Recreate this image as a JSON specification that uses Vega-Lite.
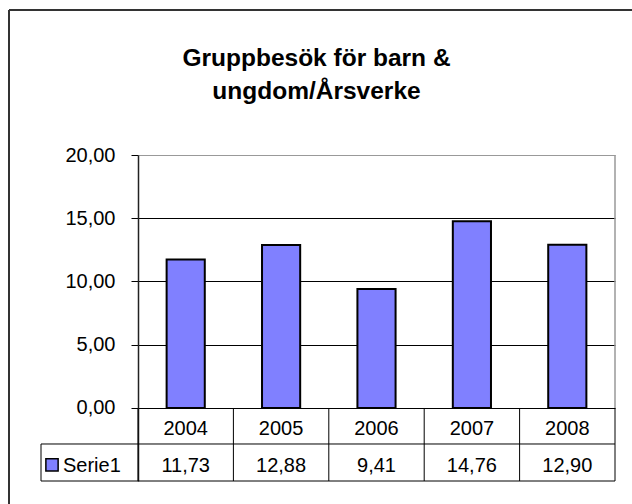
{
  "$schema": "https://vega.github.io/schema/vega-lite/v6.json",
  "width": 623,
  "height": 494,
  "autosize": {"type": "none"},
  "padding": {"left": 9, "top": 10, "right": 0, "bottom": 0},
  "background": "white",
  "config": {
    "view": {"stroke": null},
    "locale": {"number": {"decimal": ",", "thousands": " ", "grouping": [3], "currency": ["", " kr"]}},
    "font": "Liberation Sans"
  },
  "title": {
    "text": ["Gruppbesök för barn &", "ungdom/Årsverke"],
    "fontSize": 24.5,
    "fontWeight": "bold",
    "font": "Liberation Sans",
    "color": "black",
    "lineHeight": 33,
    "offset": -95,
    "anchor": "middle",
    "frame": "group",
    "dx": -4
  },
  "data": {
    "values": [
      {"year": "2004", "value": 11.73},
      {"year": "2005", "value": 12.88},
      {"year": "2006", "value": 9.41},
      {"year": "2007", "value": 14.76},
      {"year": "2008", "value": 12.90}
    ]
  },
  "layer": [
    {
      "mark": {"type": "bar", "color": "#8080FF", "stroke": "black", "strokeWidth": 2, "width": {"band": 0.4}},
      "encoding": {
        "x": {
          "field": "year", "type": "nominal",
          "scale": {"type": "band", "domain": ["2004", "2005", "2006", "2007", "2008"], "range": [129, 606], "paddingInner": 0, "paddingOuter": 0},
          "axis": null
        },
        "y": {
          "field": "value", "type": "quantitative",
          "scale": {"domain": [-5.771, 20], "range": [471, 145], "nice": false, "zero": false},
          "axis": {
            "values": [0, 5, 10, 15, 20],
            "format": ".2f",
            "title": null,
            "offset": -129,
            "labelFontSize": 20,
            "labelFont": "Liberation Sans",
            "labelColor": "black",
            "labelPadding": 16,
            "tickSize": 7,
            "tickColor": "black",
            "tickWidth": 1,
            "domainColor": "#222222",
            "domainWidth": 1.5,
            "grid": true,
            "gridWidth": 1,
            "gridColor": {"condition": {"test": "datum.value === 20", "value": "#999999"}, "value": "black"}
          }
        }
      }
    },
    {
      "mark": {"type": "rule", "color": "black", "strokeWidth": 1},
      "encoding": {
        "x": {"field": "year", "type": "nominal", "bandPosition": 0},
        "y": {"datum": 0},
        "y2": {"datum": -5.771}
      }
    },
    {
      "mark": {"type": "text", "fontSize": 20, "baseline": "alphabetic", "align": "center", "color": "black", "font": "Liberation Sans"},
      "encoding": {
        "x": {"field": "year", "type": "nominal"},
        "y": {"datum": -2.13},
        "text": {"field": "year", "type": "nominal"}
      }
    },
    {
      "mark": {"type": "text", "fontSize": 20, "baseline": "alphabetic", "align": "center", "color": "black", "font": "Liberation Sans"},
      "encoding": {
        "x": {"field": "year", "type": "nominal"},
        "y": {"datum": -5.06},
        "text": {"field": "value", "type": "quantitative", "format": ".2f"}
      }
    },
    {
      "data": {"values": [{}]},
      "layer": [
        {
          "mark": {"type": "rule", "color": "#333333", "strokeWidth": 2, "xOffset": -129},
          "encoding": {
            "x": {"datum": "2004", "bandPosition": 0}
          }
        },
        {
          "mark": {"type": "rule", "color": "#333333", "strokeWidth": 2, "yOffset": -145},
          "encoding": {
            "y": {"datum": 20}
          }
        },
        {
          "mark": {"type": "rule", "color": "#999999", "strokeWidth": 1.5},
          "encoding": {
            "x": {"datum": "2008", "bandPosition": 1},
            "y": {"datum": 0},
            "y2": {"datum": 20}
          }
        },
        {
          "mark": {"type": "rule", "color": "black", "strokeWidth": 1},
          "encoding": {
            "x": {"datum": "2008", "bandPosition": 1},
            "y": {"datum": 0},
            "y2": {"datum": -5.771}
          }
        },
        {
          "mark": {"type": "rule", "color": "black", "strokeWidth": 1, "xOffset": -97},
          "encoding": {
            "x": {"datum": "2004", "bandPosition": 0},
            "x2": {"datum": "2008", "bandPosition": 1},
            "y": {"datum": -2.846}
          }
        },
        {
          "mark": {"type": "rule", "color": "black", "strokeWidth": 1, "xOffset": -97},
          "encoding": {
            "x": {"datum": "2004", "bandPosition": 0},
            "x2": {"datum": "2008", "bandPosition": 1},
            "y": {"datum": -5.771}
          }
        },
        {
          "mark": {"type": "rule", "color": "black", "strokeWidth": 1, "xOffset": -97},
          "encoding": {
            "x": {"datum": "2004", "bandPosition": 0},
            "y": {"datum": -2.846},
            "y2": {"datum": -5.771}
          }
        },
        {
          "mark": {"type": "point", "shape": "square", "filled": true, "fill": "#8080FF", "stroke": "black", "strokeWidth": 1.5, "size": 150, "opacity": 1, "xOffset": -86},
          "encoding": {
            "x": {"datum": "2004", "bandPosition": 0},
            "y": {"datum": -4.5}
          }
        },
        {
          "mark": {"type": "text", "text": "Serie1", "fontSize": 20, "baseline": "alphabetic", "align": "left", "color": "black", "font": "Liberation Sans", "xOffset": -75},
          "encoding": {
            "x": {"datum": "2004", "bandPosition": 0},
            "y": {"datum": -5.06}
          }
        }
      ]
    }
  ]
}
